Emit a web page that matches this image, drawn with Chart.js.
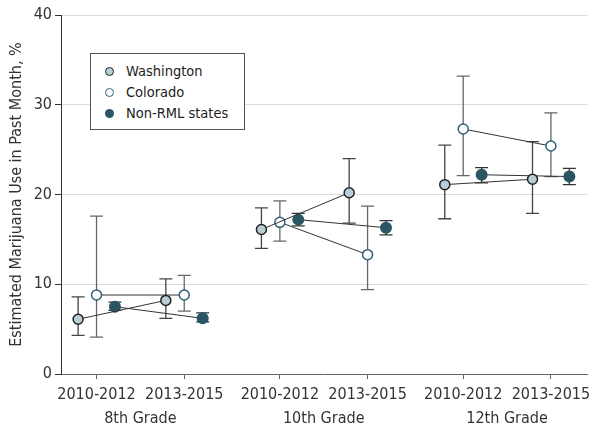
<!DOCTYPE html>
<html>
<head>
<meta charset="utf-8">
<script src="https://cdn.jsdelivr.net/npm/chart.js@4"></script>
<style>
  body{margin:0;background:#fff;}
  #wrap{position:relative;width:594px;height:427px;}
  #legend{position:absolute;left:90px;top:53px;width:155px;height:77px;box-sizing:border-box;
    border:1px solid #555;background:#fff;font:14.5px "DejaVu Sans Condensed","DejaVu Sans",sans-serif;color:#222;}
  .item{position:absolute;left:0;height:20px;line-height:20px;}
  .dot{position:absolute;left:14px;top:6px;width:9px;height:9px;border-radius:50%;box-sizing:border-box;}
  .lab{position:absolute;left:35px;top:0;white-space:nowrap;}
</style>
</head>
<body>
<div id="wrap">
  <canvas id="chart" width="594" height="427"></canvas>
  <div id="legend"></div>
</div>
<script>
const grades = ["8th Grade", "10th Grade", "12th Grade"];
const periods = ["2010-2012", "2013-2015"];
const groupGap = 2.09;

// estimates per grade/period: 8th 10-12, 8th 13-15, 10th ..., 12th ...
const waMean = [6.1, 8.2, 16.1, 20.2, 21.1, 21.7];
const waLow  = [4.3, 6.2, 14.0, 16.8, 17.3, 17.9];
const waHigh = [8.6, 10.6, 18.5, 24.0, 25.5, 25.9];

const coMean = [8.8, 8.8, 16.9, 13.3, 27.3, 25.4];
const coLow  = [4.1, 7.0, 14.8, 9.4, 22.1, 22.0];
const coHigh = [17.6, 11.0, 19.3, 18.7, 33.2, 29.1];

const nrMean = [7.5, 6.2, 17.2, 16.3, 22.2, 22.0];
const nrLow  = [7.1, 5.8, 16.5, 15.5, 21.3, 21.1];
const nrHigh = [8.0, 6.8, 17.9, 17.1, 23.0, 22.9];

const series = [
  {label:"Washington", mean:waMean, low:waLow, high:waHigh, off:-0.21,
   fill:"#b9cdd6", border:"#222", bw:1.5, r:5, err:"#444"},
  {label:"Colorado", mean:coMean, low:coLow, high:coHigh, off:0,
   fill:"#fff", border:"#2e6275", bw:1.5, r:5, err:"#666"},
  {label:"Non-RML states", mean:nrMean, low:nrLow, high:nrHigh, off:0.21,
   fill:"#2b5563", border:"#2b5563", bw:0, r:6, err:"#333"}
];

const FONT = "'DejaVu Sans Condensed', 'DejaVu Sans', sans-serif";

function pos(g, p){ return g * groupGap + p; }

const tickPos = [];
grades.forEach((g, gi) => periods.forEach((p, pi) => tickPos.push(pos(gi, pi))));

function build(s){
  const data = [], lo = [], hi = [];
  grades.forEach((g, gi) => {
    periods.forEach((p, pi) => {
      const i = gi * 2 + pi;
      data.push({x: pos(gi, pi) + s.off, y: s.mean[i]});
      lo.push(s.low[i]); hi.push(s.high[i]);
    });
    if(gi < grades.length - 1){
      data.push({x: pos(gi, 1) + 0.5, y: null});
      lo.push(null); hi.push(null);
    }
  });
  return {
    label: s.label, data, errLow: lo, errHigh: hi, errColor: s.err,
    showLine: true, spanGaps: false,
    borderColor: "#333", borderWidth: 1,
    pointBackgroundColor: s.fill, pointBorderColor: s.border,
    pointBorderWidth: s.bw, pointRadius: s.r
  };
}

const errorBars = {
  id: "errorBars",
  beforeDatasetsDraw(chart){
    const {ctx, scales:{x, y}} = chart;
    ctx.save();
    chart.data.datasets.forEach(ds => {
      ctx.strokeStyle = ds.errColor;
      ctx.lineWidth = 1.3;
      ds.data.forEach((d, i) => {
        if(d.y === null) return;
        const px = x.getPixelForValue(d.x);
        const y1 = y.getPixelForValue(ds.errLow[i]);
        const y2 = y.getPixelForValue(ds.errHigh[i]);
        ctx.beginPath();
        ctx.moveTo(px, y1); ctx.lineTo(px, y2);
        ctx.moveTo(px - 6.5, y1); ctx.lineTo(px + 6.5, y1);
        ctx.moveTo(px - 6.5, y2); ctx.lineTo(px + 6.5, y2);
        ctx.stroke();
      });
    });
    ctx.restore();
  }
};

const groupLabels = {
  id: "groupLabels",
  afterDraw(chart){
    const {ctx, scales:{x}} = chart;
    ctx.save();
    ctx.font = `16px ${FONT}`;
    ctx.fillStyle = "#333";
    ctx.textAlign = "center";
    ctx.textBaseline = "middle";
    grades.forEach((g, gi) => {
      const c = (x.getPixelForValue(pos(gi, 0)) + x.getPixelForValue(pos(gi, 1))) / 2;
      ctx.fillText(g, c, 419);
    });
    ctx.restore();
  }
};

new Chart(document.getElementById("chart"), {
  type: "scatter",
  data: {datasets: series.map(build)},
  plugins: [errorBars, groupLabels],
  options: {
    responsive: false,
    animation: false,
    layout: {padding: {top: 15, right: 0, left: 0, bottom: 0}},
    plugins: {legend: {display: false}, tooltip: {enabled: false}},
    scales: {
      x: {
        type: "linear",
        min: -0.405, max: 5.597,
        afterBuildTicks(scale){ scale.ticks = tickPos.map(v => ({value: v})); },
        afterFit(scale){ scale.height = 53; scale.paddingLeft = 0; scale.paddingRight = 0; },
        ticks: {
          callback: (v, i) => periods[i % 2],
          font: {size: 16, family: FONT}, color: "#333", padding: 6,
          maxRotation: 0, autoSkip: false
        },
        grid: {drawOnChartArea: false, drawTicks: true, tickLength: 5, tickColor: "#666"},
        border: {color: "#666", width: 1}
      },
      y: {
        min: 0, max: 40,
        afterFit(scale){ scale.width = 61; },
        ticks: {stepSize: 10, font: {size: 16, family: FONT}, color: "#333", padding: 3},
        grid: {
          color: c => c.tick && c.tick.value === 0 ? "rgba(0,0,0,0)" : "#dcdcdc",
          tickColor: "#333", tickLength: 6, lineWidth: 1
        },
        border: {color: "#333", width: 1},
        title: {
          display: true, text: "Estimated Marijuana Use in Past Month, %",
          font: {size: 16, family: FONT}, color: "#333", padding: {top: 7, bottom: 0}
        }
      }
    }
  }
});

const legend = document.getElementById("legend");
series.forEach((s, i) => {
  const it = document.createElement("div");
  it.className = "item";
  it.style.top = (7 + i * 21) + "px";
  it.innerHTML = `<span class="dot" style="background:${s.fill};border:${s.bw}px solid ${s.border}"></span><span class="lab">${s.label}</span>`;
  legend.appendChild(it);
});
</script>
</body>
</html>
